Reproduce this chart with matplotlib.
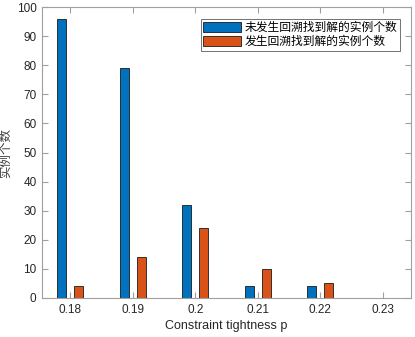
import matplotlib
matplotlib.use("Agg")
import matplotlib.pyplot as plt
import numpy as np

plt.rcParams['font.family'] = ['Liberation Sans', 'Noto Sans CJK SC', 'DejaVu Sans']

# 数据
tightness = [0.18, 0.19, 0.20, 0.21, 0.22, 0.23]
tick_labels = ["0.18", "0.19", "0.2", "0.21", "0.22", "0.23"]
no_backtrack = [96, 79, 32, 4, 4, 0]
with_backtrack = [4, 14, 24, 10, 5, 0]
series_names = ["未发生回溯找到解的实例个数", "发生回溯找到解的实例个数"]

BLUE = "#0072BD"
ORANGE = "#D95319"
AX_GREY = "#a0a0a0"
TXT = "#262626"

fig = plt.figure(figsize=(4.15, 3.37), dpi=100)
ax = fig.add_axes([42 / 415, 1 - 298 / 337, 369 / 415, 291 / 337])

x = np.array(tightness)
off, w = 0.00136, 0.00144
ax.bar(x - off, no_backtrack, width=w, color=BLUE, edgecolor="#1a1a1a",
       linewidth=0.6, label=series_names[0])
ax.bar(x + off, with_backtrack, width=w, color=ORANGE, edgecolor="#1a1a1a",
       linewidth=0.6, label=series_names[1])

ax.set_xlim(0.17553, 0.23447)
ax.set_ylim(0, 100)
ax.set_xticks(x)
ax.set_xticklabels(tick_labels)
ax.set_yticks(range(0, 101, 10))

for s in ax.spines.values():
    s.set_color(AX_GREY)
    s.set_linewidth(0.8)
ax.tick_params(direction="in", length=4, width=0.8, color=AX_GREY,
               labelsize=8.5, labelcolor=TXT, top=True, right=True, pad=4)

ax.set_xlabel("Constraint tightness p", fontsize=9, color=TXT, labelpad=3)
ax.set_ylabel("实例个数", fontsize=9, color="#404040",
              family=["Noto Sans CJK SC"])
ax.yaxis.set_label_coords(-0.082, 0.5)

leg = ax.legend(loc="upper right", bbox_to_anchor=(0.97, 0.96),
                prop={"family": "Noto Sans CJK SC", "size": 8.5},
                frameon=True, fancybox=False, edgecolor="#333333",
                handlelength=3.2, handleheight=0.9, handletextpad=0.3,
                borderpad=0.2, labelspacing=0.1, borderaxespad=0)
leg.get_frame().set_linewidth(0.6)

fig.savefig("out.png", dpi=100)
